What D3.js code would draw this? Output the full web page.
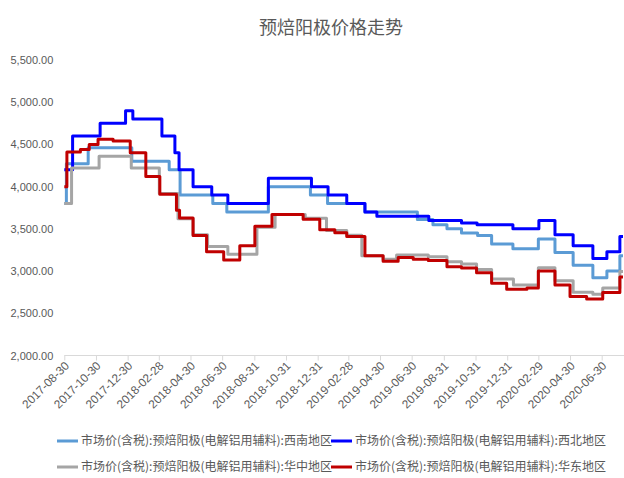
<!DOCTYPE html>
<html>
<head>
<meta charset="utf-8">
<script src="https://cdn.jsdelivr.net/npm/d3@7"></script>
<style>
  html, body { margin: 0; padding: 0; background: #fff; }
  svg { display: block; }
</style>
</head>
<body>
<svg id="chart" width="624" height="478"></svg>
<script>
// ---- data -------------------------------------------------------------
const chartTitle = "预焙阳极价格走势";

const xTickLabels = [
  "2017-08-30", "2017-10-30", "2017-12-30", "2018-02-28", "2018-04-30", "2018-06-30",
  "2018-08-31", "2018-10-31", "2018-12-31", "2019-02-28", "2019-04-30", "2019-06-30",
  "2019-08-31", "2019-10-31", "2019-12-31", "2020-02-29", "2020-04-30", "2020-06-30"
];
const yTickValues = [2000, 2500, 3000, 3500, 4000, 4500, 5000, 5500];

const seriesNames = [
  "市场价(含税):预焙阳极(电解铝用辅料):西南地区",
  "市场价(含税):预焙阳极(电解铝用辅料):西北地区",
  "市场价(含税):预焙阳极(电解铝用辅料):华中地区",
  "市场价(含税):预焙阳极(电解铝用辅料):华东地区"
];

// Price change dates and the price that holds from each date on (元/吨)
const xinanDates = [
  "2017-08-30", "2017-09-03", "2017-10-15", "2018-01-07", "2018-03-20", "2018-04-10",
  "2018-06-12", "2018-07-09", "2018-09-27", "2018-12-17", "2019-01-19", "2019-04-01",
  "2019-07-11", "2019-08-10", "2019-09-06", "2019-10-04", "2019-11-04", "2019-12-01",
  "2020-01-11", "2020-02-29", "2020-04-01", "2020-05-06", "2020-06-13", "2020-07-10",
  "2020-08-04", "2020-08-10"
];
const xinanValues = [
  3800, 4270, 4460, 4300, 4200, 3900,
  3800, 3700, 4000, 3900, 3800, 3700,
  3610, 3550, 3500, 3450, 3420, 3320,
  3265, 3380, 3220, 3070, 2920, 3000,
  3180, 3180
];

const xibeiDates = [
  "2017-08-30", "2017-09-15", "2017-11-07", "2017-12-26", "2018-01-09", "2018-03-06",
  "2018-03-31", "2018-04-08", "2018-05-05", "2018-06-10", "2018-07-11", "2018-09-27",
  "2018-12-19", "2019-01-20", "2019-02-25", "2019-04-01", "2019-04-24", "2019-08-02",
  "2019-10-04", "2019-11-03", "2020-01-11", "2020-03-01", "2020-04-01", "2020-05-06",
  "2020-06-13", "2020-07-10", "2020-08-04", "2020-08-10"
];
const xibeiValues = [
  4200, 4600, 4750, 4900, 4800, 4600,
  4400, 4200, 4000, 3900, 3800, 4100,
  4000, 3900, 3800, 3700, 3650, 3600,
  3570, 3550, 3500, 3600, 3430, 3300,
  3150, 3230, 3410, 3410
];

const huazhongDates = [
  "2017-08-30", "2017-09-13", "2017-11-05", "2018-01-06", "2018-03-01", "2018-04-06",
  "2018-05-05", "2018-06-02", "2018-07-11", "2018-09-05", "2018-10-10", "2018-12-07",
  "2019-01-17", "2019-02-25", "2019-03-26", "2019-05-06", "2019-06-01", "2019-08-01",
  "2019-09-06", "2019-10-04", "2019-11-02", "2019-12-01", "2020-01-12", "2020-02-29",
  "2020-04-01", "2020-05-06", "2020-06-13", "2020-07-02", "2020-08-04", "2020-08-10"
];
const huazhongValues = [
  3800, 4220, 4360, 4220, 3920, 3620,
  3430, 3290, 3200, 3520, 3670, 3625,
  3480, 3425, 3180, 3140, 3190, 3170,
  3110, 3085, 3020, 2905, 2835, 3040,
  2885, 2750, 2725, 2800, 2995, 2995
];

const huadongDates = [
  "2017-08-30", "2017-09-04", "2017-09-30", "2017-10-17", "2017-11-03", "2017-12-02",
  "2018-01-04", "2018-02-03", "2018-03-02", "2018-04-03", "2018-04-09", "2018-05-05",
  "2018-05-31", "2018-07-03", "2018-08-03", "2018-09-01", "2018-10-04", "2018-12-03",
  "2019-01-04", "2019-02-02", "2019-02-25", "2019-04-01", "2019-05-06", "2019-06-04",
  "2019-07-03", "2019-08-01", "2019-09-06", "2019-10-04", "2019-11-02", "2019-12-01",
  "2019-12-30", "2020-02-07", "2020-02-29", "2020-04-01", "2020-04-30", "2020-06-01",
  "2020-07-02", "2020-08-04", "2020-08-10"
];
const huadongValues = [
  4000, 4410, 4440, 4500, 4560, 4540,
  4400, 4120, 3910, 3720, 3630, 3420,
  3230, 3130, 3300, 3530, 3670, 3615,
  3490, 3455, 3410, 3180, 3115, 3160,
  3140, 3125, 3050, 3035, 2980, 2855,
  2785, 2800, 3000, 2835, 2700, 2670,
  2745, 2930, 2930
];

const seriesColors = ["#5B9BD5", "#0000FF", "#A5A5A5", "#C00000"];

// ---- setup ------------------------------------------------------------
const parse = d3.utcParse("%Y-%m-%d");
const fmtDate = d3.utcFormat("%Y-%m-%d");

const series = [
  { name: seriesNames[0], color: seriesColors[0], dates: xinanDates, values: xinanValues },
  { name: seriesNames[1], color: seriesColors[1], dates: xibeiDates, values: xibeiValues },
  { name: seriesNames[2], color: seriesColors[2], dates: huazhongDates, values: huazhongValues },
  { name: seriesNames[3], color: seriesColors[3], dates: huadongDates, values: huadongValues }
].map(s => ({ ...s, points: s.dates.map((d, i) => ({ date: parse(d), value: s.values[i] })) }));

const plotLeft = 64.3, plotRight = 624, axisY = 355.5, topY = 60;

const svg = d3.select("#chart");
const textColor = "#595959";
const latinFont = "'Liberation Sans', Arial, sans-serif";
const cjkFont = "'Noto Sans CJK SC', 'Noto Sans', sans-serif";

const x = d3.scaleUtc()
  .domain([parse(xTickLabels[0]), parse(xTickLabels[xTickLabels.length - 1])])
  .range([plotLeft, 601.7]);

const y = d3.scaleLinear()
  .domain([yTickValues[0], yTickValues[yTickValues.length - 1]])
  .range([axisY, topY]);

// ---- title ------------------------------------------------------------
svg.append("text")
  .attr("x", 331)
  .attr("y", 34)
  .attr("text-anchor", "middle")
  .attr("fill", textColor)
  .style("font-family", cjkFont)
  .style("font-size", "18px")
  .text(chartTitle);

// ---- y axis (labels only) --------------------------------------------
const yAxis = svg.append("g")
  .attr("transform", `translate(${plotLeft},0)`)
  .call(d3.axisLeft(y).tickValues(yTickValues).tickSize(0).tickPadding(11)
    .tickFormat(d3.format(",.2f")));
yAxis.select(".domain").remove();
yAxis.selectAll("text")
  .attr("fill", textColor)
  .style("font-family", latinFont)
  .style("font-size", "11px");

// ---- x axis -----------------------------------------------------------
const xAxis = svg.append("g")
  .attr("transform", `translate(0,${axisY})`)
  .call(d3.axisBottom(x).tickValues(xTickLabels.map(parse)).tickSize(5)
    .tickFormat(fmtDate));
xAxis.select(".domain").remove();
xAxis.selectAll(".tick line").attr("stroke", "#D9D9D9");
xAxis.selectAll("text")
  .attr("fill", textColor)
  .attr("x", 0).attr("y", 0).attr("dy", null)
  .attr("text-anchor", "end")
  .attr("transform", "translate(5,11) rotate(-45)")
  .style("font-family", latinFont)
  .style("font-size", "11.8px");
xAxis.append("line")
  .attr("x1", plotLeft).attr("x2", plotRight)
  .attr("y1", 0).attr("y2", 0)
  .attr("stroke", "#D9D9D9")
  .attr("stroke-width", 1);

// ---- lines ------------------------------------------------------------
svg.append("clipPath").attr("id", "plotClip")
  .append("rect").attr("x", plotLeft - 3).attr("y", 0)
  .attr("width", plotRight - plotLeft + 3).attr("height", axisY);

const line = d3.line()
  .x(d => x(d.date))
  .y(d => y(d.value))
  .curve(d3.curveStepAfter);

svg.append("g").attr("clip-path", "url(#plotClip)")
  .selectAll("path")
  .data(series)
  .join("path")
  .attr("d", s => line(s.points))
  .attr("fill", "none")
  .attr("stroke", s => s.color)
  .attr("stroke-width", 3)
  .attr("stroke-linejoin", "round");

// ---- legend -----------------------------------------------------------
const legendCols = [57, 331];
const legendRows = [441, 467];
const legend = svg.append("g");
series.forEach((s, i) => {
  const lx = legendCols[i % 2], ly = legendRows[Math.floor(i / 2)];
  const g = legend.append("g").attr("transform", `translate(${lx},${ly})`);
  g.append("line")
    .attr("x1", 0).attr("x2", 21).attr("y1", 0).attr("y2", 0)
    .attr("stroke", s.color).attr("stroke-width", 3);
  g.append("text")
    .attr("x", 24).attr("y", 0).attr("dy", "0.35em")
    .attr("fill", textColor)
    .style("font-family", cjkFont)
    .style("font-size", "12px")
    .text(s.name);
});
</script>
</body>
</html>
